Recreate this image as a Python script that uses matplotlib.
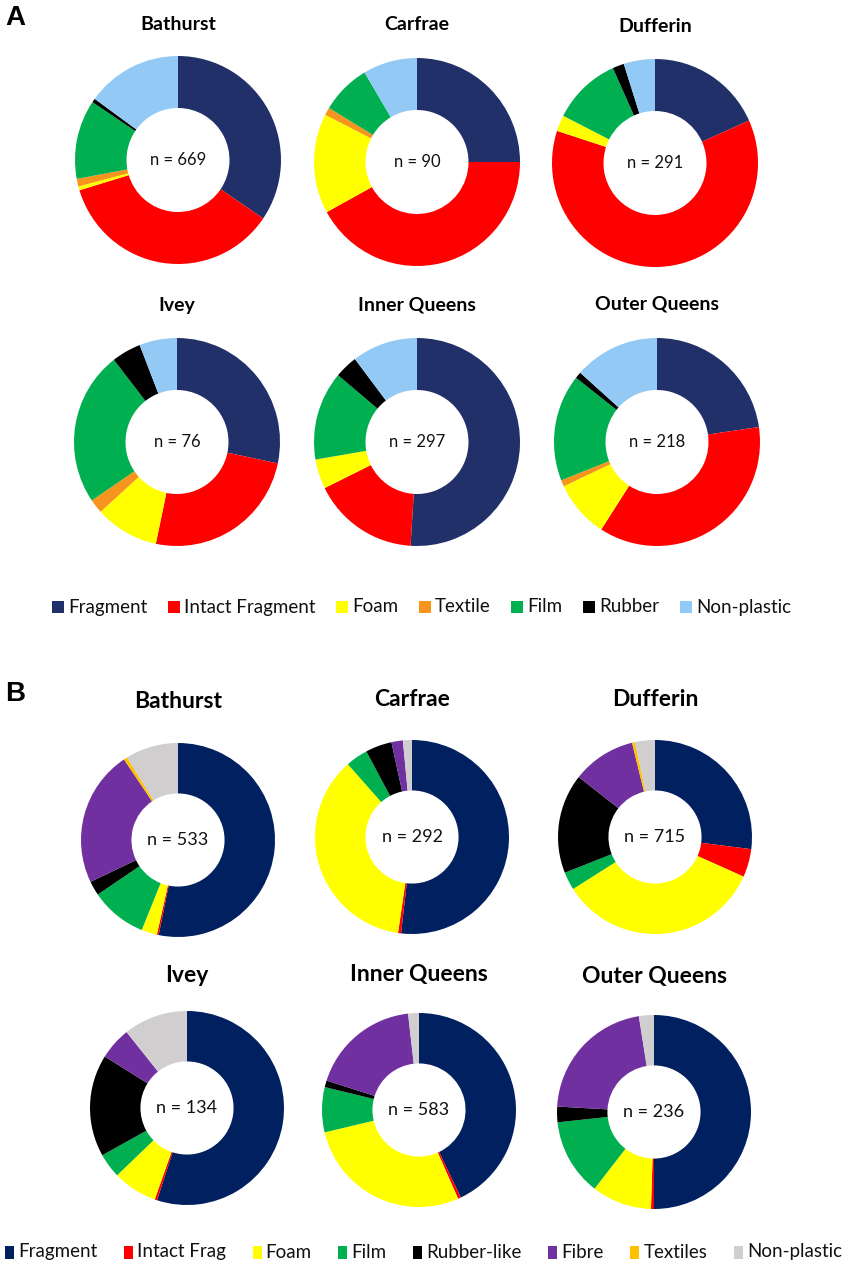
import matplotlib
matplotlib.use("Agg")
import matplotlib.pyplot as plt
from matplotlib.patches import Rectangle

W, H = 844, 1264
plt.rcParams['font.family'] = ['Lato', 'DejaVu Sans']

# ---------------- Panel A data ----------------
cats_a = ["Fragment", "Intact Fragment", "Foam", "Textile", "Film", "Rubber", "Non-plastic"]
colors_a = ["#213068", "#FF0000", "#FFFF00", "#F7941D", "#00B050", "#000000", "#92C9F5"]
sites_a = ["Bathurst", "Carfrae", "Dufferin", "Ivey", "Inner Queens", "Outer Queens"]
n_a = [669, 90, 291, 76, 297, 218]
bathurst_a = [34.5, 35.8, 0.6, 1.2, 12.3, 0.6, 15.0]
carfrae_a = [25.0, 42.0, 15.5, 1.2, 7.8, 0.0, 8.5]
dufferin_a = [18.3, 61.7, 2.5, 0.0, 10.8, 1.8, 4.9]
ivey_a = [28.3, 25.0, 10.0, 2.2, 24.0, 4.6, 5.9]
innerq_a = [51.0, 16.7, 4.6, 0.0, 13.8, 3.6, 10.3]
outerq_a = [22.7, 36.4, 8.9, 1.0, 16.6, 1.0, 13.4]
values_a = [bathurst_a, carfrae_a, dufferin_a, ivey_a, innerq_a, outerq_a]

# ---------------- Panel B data ----------------
cats_b = ["Fragment", "Intact Frag", "Foam", "Film", "Rubber-like", "Fibre", "Textiles", "Non-plastic"]
colors_b = ["#002060", "#FF0000", "#FFFF00", "#00B050", "#000000", "#7030A0", "#FFC000", "#D0CECE"]
sites_b = ["Bathurst", "Carfrae", "Dufferin", "Ivey", "Inner Queens", "Outer Queens"]
n_b = [533, 292, 715, 134, 583, 236]
bathurst_b = [53.2, 0.3, 2.6, 9.4, 2.4, 22.7, 0.6, 8.8]
carfrae_b = [51.8, 0.5, 36.2, 3.7, 4.4, 1.9, 0.0, 1.5]
dufferin_b = [27.0, 4.7, 34.3, 3.0, 16.6, 10.6, 0.5, 3.3]
ivey_b = [55.0, 0.4, 7.4, 4.1, 17.0, 5.4, 0.0, 10.7]
innerq_b = [42.9, 0.5, 27.9, 7.5, 1.1, 18.3, 0.0, 1.8]
outerq_b = [50.0, 0.5, 10.0, 12.8, 2.6, 21.6, 0.0, 2.5]
values_b = [bathurst_b, carfrae_b, dufferin_b, ivey_b, innerq_b, outerq_b]

fig = plt.figure(figsize=(W / 100, H / 100), dpi=100)
fig.patch.set_facecolor("white")


def donut(cx, cy, rx, ry, vals, colors, label, fs, hole):
    ax = fig.add_axes([(cx - rx) / W, 1 - (cy + ry) / H, 2 * rx / W, 2 * ry / H])
    ax.pie(vals, colors=colors, startangle=90, counterclock=False, radius=1,
           wedgeprops=dict(width=1 - hole, linewidth=0))
    ax.set_aspect("auto")
    ax.set_xlim(-1, 1)
    ax.set_ylim(-1, 1)
    ax.axis("off")
    ax.text(0, 0, label, ha="center", va="center", fontsize=fs, color="#111111")


def title(x, y, s, fs):
    fig.text(x / W, 1 - y / H, s, ha="center", va="center", fontsize=fs,
             fontweight="bold", color="black")


# Panel A layout
centers_a = [(178, 160), (417, 162), (655, 163), (177, 442), (417, 442), (657, 442)]
title_y_a = [25, 25, 27, 305, 305, 304]
for (cx, cy), ty, s, v, n in zip(centers_a, title_y_a, sites_a, values_a, n_a):
    donut(cx, cy, 103, 104, v, colors_a, f"n = {n}", 12, 0.5)
    title(cx, ty, s, 14)

# Panel B layout
centers_b = [(178, 840), (412, 837), (655, 837), (187, 1108), (419, 1110), (654, 1112)]
title_y_b = [702, 700, 700, 975, 975, 976]
for (cx, cy), ty, s, v, n in zip(centers_b, title_y_b, sites_b, values_b, n_b):
    donut(cx, cy, 97, 97, v, colors_b, f"n = {n}", 13, 0.48)
    title(cx, ty, s, 16.5)

# Panel labels
fig.text(5 / W, 1 - 18 / H, "A", fontsize=20, fontweight="bold",
         family=["Liberation Sans", "DejaVu Sans"], va="center", ha="left")
fig.text(5 / W, 1 - 694 / H, "B", fontsize=20, fontweight="bold",
         family=["Liberation Sans", "DejaVu Sans"], va="center", ha="left")

# Legends (manual row of squares and labels)
lax = fig.add_axes([0, 0, 1, 1], zorder=-1)
lax.set_xlim(0, W)
lax.set_ylim(H, 0)
lax.axis("off")


def legend_row(x0, x1, y, cats, colors, fs, sqw, sqh):
    renderer = fig.canvas.get_renderer()
    widths = []
    for c in cats:
        t = lax.text(0, 0, c, fontsize=fs)
        bb = t.get_window_extent(renderer=renderer)
        widths.append(bb.width)
        t.remove()
    gap_in = 4
    total = sum(widths) + len(cats) * (sqw + gap_in)
    gap = (x1 - x0 - total) / (len(cats) - 1)
    x = x0
    for c, col, w in zip(cats, colors, widths):
        lax.add_patch(Rectangle((x, y - sqh / 2), sqw, sqh, facecolor=col, edgecolor="none"))
        lax.text(x + sqw + gap_in, y, c, fontsize=fs, va="center", ha="left", color="#111111")
        x += sqw + gap_in + w + gap


legend_row(52, 791, 607, cats_a, colors_a, 13.5, 12, 12)
legend_row(5, 842, 1252, cats_b, colors_b, 13.5, 9, 13)

fig.savefig("out.png", dpi=100, facecolor="white")
